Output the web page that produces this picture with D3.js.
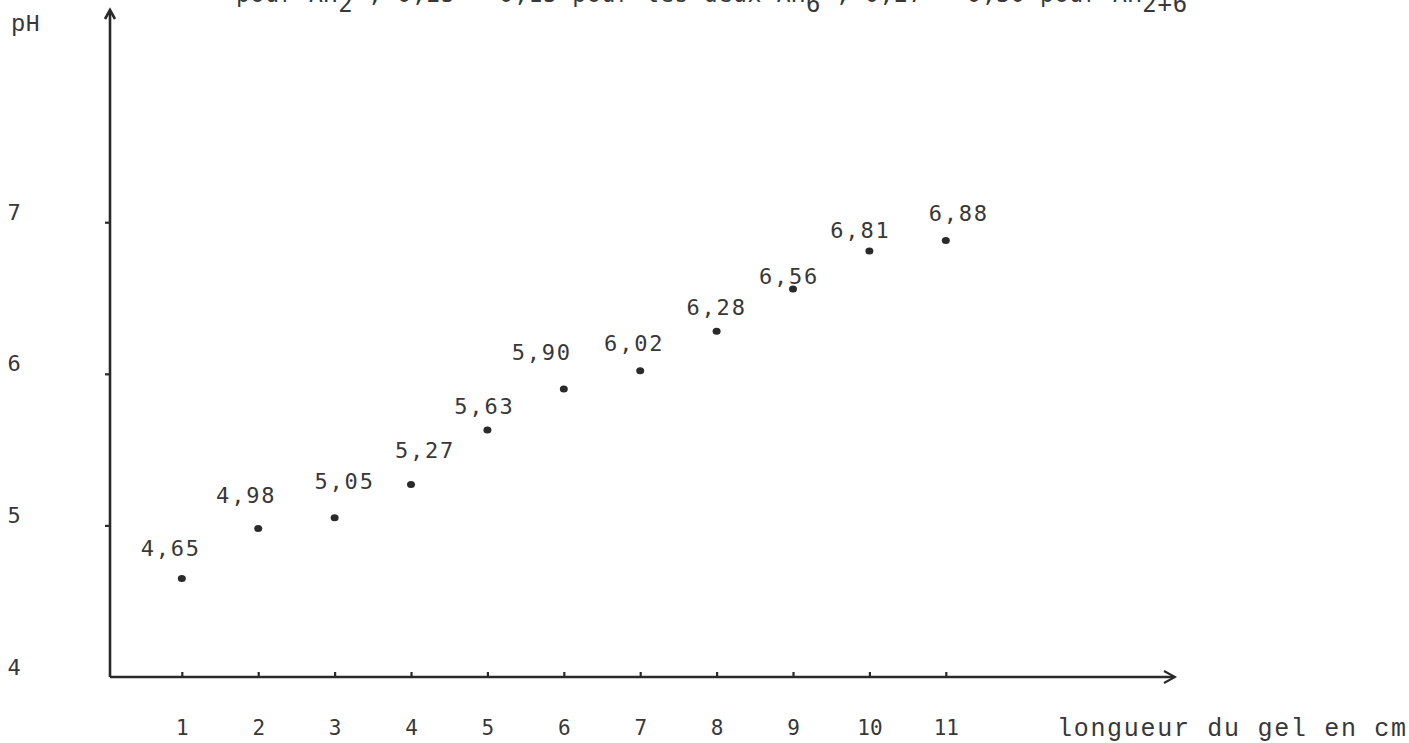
<!DOCTYPE html>
<html><head><meta charset="utf-8">
<script src="https://cdn.jsdelivr.net/npm/d3@7"></script>
<style>body{margin:0;background:#fff;overflow:hidden}</style>
</head><body><svg id="c" width="1409" height="743"></svg>
<script>
// ---- data ----
const lengths = [1, 2, 3, 4, 5, 6, 7, 8, 9, 10, 11];
const phValues = [4.65, 4.98, 5.05, 5.27, 5.63, 5.90, 6.02, 6.28, 6.56, 6.81, 6.88];
const phLabels = ["4,65", "4,98", "5,05", "5,27", "5,63", "5,90", "6,02", "6,28", "6,56", "6,81", "6,88"];
const xTickValues = [1, 2, 3, 4, 5, 6, 7, 8, 9, 10, 11];
const yTickValues = [4, 5, 6, 7];
const xAxisTitle = "longueur du gel en cm";
const yAxisTitle = "pH";
// label nudges (typewritten placement, px relative to point)
const labelNudgeX = [-11, -12, 10, 14, -3, -22, -6, 0, -4, -9, 13];
const labelNudgeY = [-30, -33, -37, -34, -24, -37, -28, -24, -13, -21, -27];

const svg = d3.select("#c");
const ink = "#2a2a2a";
const txt = "#383838";
const x = d3.scaleLinear().domain([0.06, 14.0]).range([110, 1175]);
const y = d3.scaleLinear().domain([4, 8.40]).range([677, 10]);
const x0 = x.range()[0], x1 = x.range()[1];
const y0 = y.range()[0], y1 = y.range()[1];

// top cut-off caption line (cut by the page edge as in the scan)
const cap = svg.append("text").attr("x", 236).attr("y", 2)
  .attr("font-family", "DejaVu Sans Mono").attr("font-size", 23).attr("fill", txt)
  .attr("letter-spacing", 0.75);
cap.append("tspan").text("pour AH");
cap.append("tspan").attr("dy", 10).attr("font-size", 24).text("2");
cap.append("tspan").attr("dy", -10).text(" , 0,25 - 0,15 pour les deux AH");
cap.append("tspan").attr("dy", 10).attr("font-size", 24).text("6");
cap.append("tspan").attr("dy", -10).text(" , 0,27 - 0,30 pour AH");
cap.append("tspan").attr("dy", 10).attr("font-size", 24).text("2+6");

// axes lines
svg.append("path").attr("d", `M${x0},${y0}L${x0},${y1+2}`).attr("stroke", ink).attr("stroke-width", 2.6).attr("fill", "none");
svg.append("path").attr("d", `M${x0-5},${y1+9}L${x0},${y1}L${x0+5},${y1+9}`).attr("stroke", ink).attr("stroke-width", 2.6).attr("fill", "none");
svg.append("path").attr("d", `M${x0},${y0}L${x1},${y0}`).attr("stroke", ink).attr("stroke-width", 2.4).attr("fill", "none");
svg.append("path").attr("d", `M${x1-11},${y0-6}L${x1},${y0}L${x1-11},${y0+6}`).attr("stroke", ink).attr("stroke-width", 2).attr("fill", "none");

// x ticks
const xAx = svg.append("g").attr("transform", `translate(0,${y0})`)
  .call(d3.axisBottom(x).tickValues(xTickValues).tickSize(-5).tickPadding(0).tickFormat(d => d));
xAx.select(".domain").remove();
xAx.selectAll(".tick line").attr("stroke", ink).attr("stroke-width", 2.2);
xAx.selectAll(".tick text").attr("y", 58).attr("dy", 0).attr("fill", txt)
  .attr("font-family", "DejaVu Sans Mono").attr("font-size", 21);

// y ticks
const yAx = svg.append("g").attr("transform", `translate(${x0},0)`)
  .call(d3.axisLeft(y).tickValues(yTickValues).tickSize(5).tickPadding(0).tickFormat(d => d));
yAx.select(".domain").remove();
yAx.selectAll(".tick line").attr("stroke", ink).attr("stroke-width", 2.2)
  .filter(d => d === 4).remove();
yAx.selectAll(".tick text").attr("x", -x0 + 14).attr("dy", -3).attr("text-anchor", "middle")
  .attr("fill", txt).attr("font-family", "DejaVu Sans Mono").attr("font-size", 22);

// axis titles
svg.append("text").attr("x", 11).attr("y", 31).text(yAxisTitle)
  .attr("font-family", "Liberation Mono").attr("font-size", 24).attr("fill", txt);
svg.append("text").attr("x", 1057).attr("y", 736).text(xAxisTitle)
  .attr("font-family", "Liberation Mono").attr("font-size", 25).attr("letter-spacing", 1.7).attr("fill", txt);

// points
const pts = lengths.map((l, i) => ({l, v: phValues[i], lab: phLabels[i], i}));
svg.append("g").selectAll("ellipse").data(pts).join("ellipse")
  .attr("cx", d => x(d.l)).attr("cy", d => y(d.v)).attr("rx", 4).attr("ry", 3.5).attr("fill", ink);

// value labels
svg.append("g").selectAll("text").data(pts).join("text")
  .attr("x", d => x(d.l) + labelNudgeX[d.i]).attr("y", d => y(d.v) + labelNudgeY[d.i])
  .attr("dy", "0.36em").attr("text-anchor", "middle").text(d => d.lab)
  .attr("font-family", "DejaVu Sans Mono").attr("font-size", 22).attr("letter-spacing", 1.8)
  .attr("fill", txt);
</script></body></html>
